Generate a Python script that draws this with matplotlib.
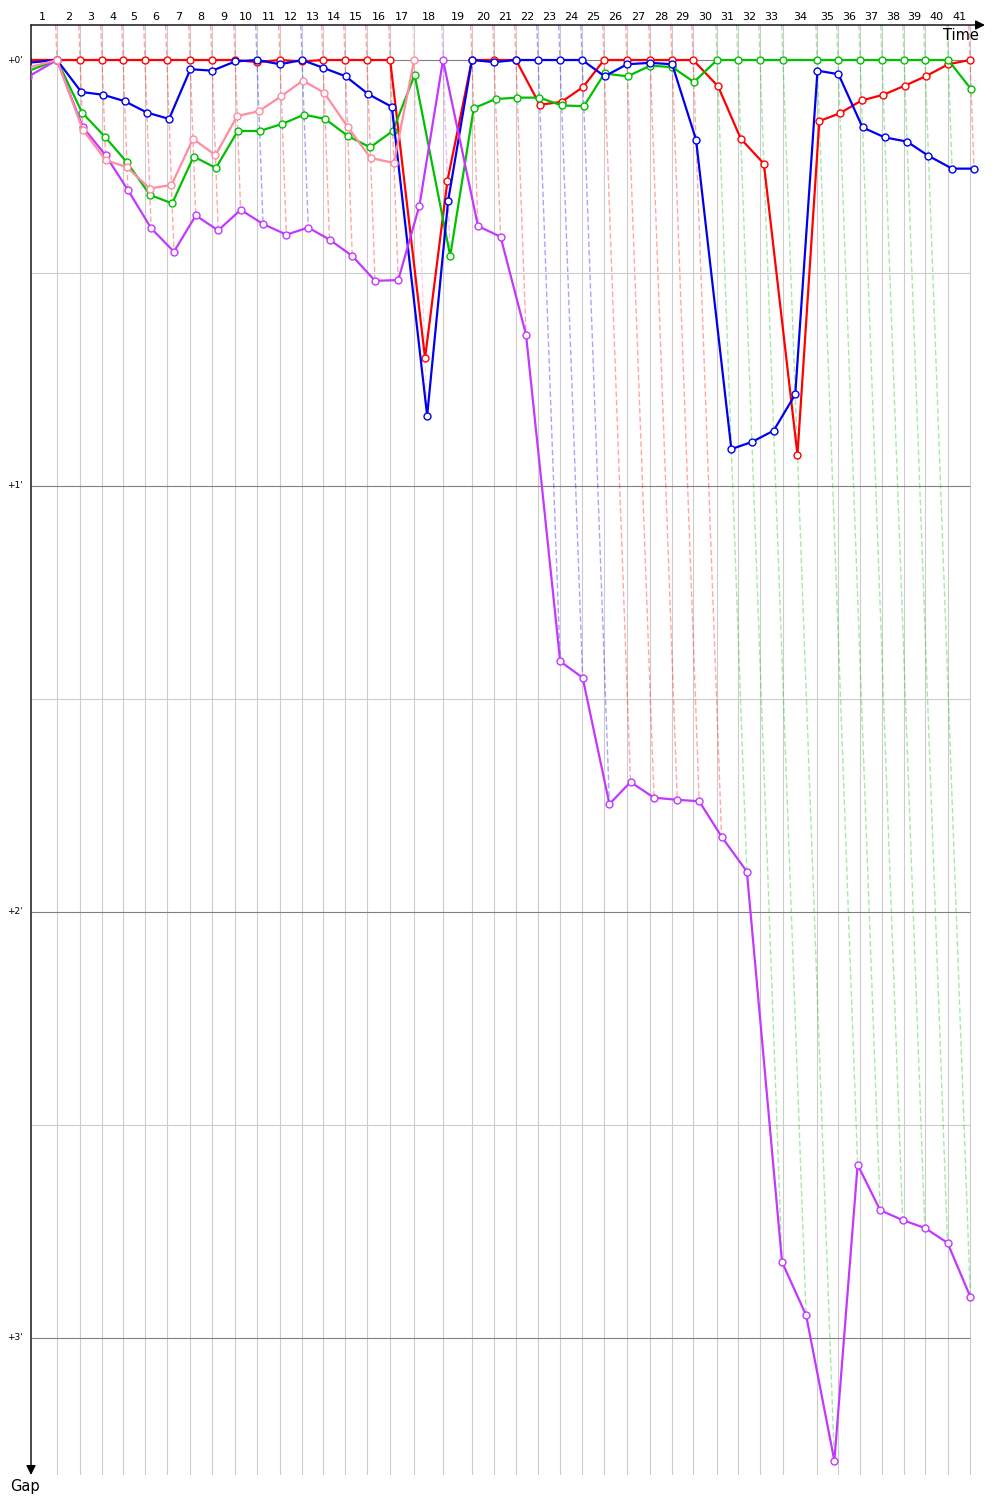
import matplotlib.pyplot as plt

# leader's elapsed time (s) at the end of each lap, lap 0 = start line
laps = list(range(42))
leader_time = [0, 115, 204, 288, 369, 453, 537, 626, 710, 799, 883, 971, 1056, 1136,
               1221, 1305, 1394, 1486, 1597, 1708, 1793, 1877, 1962, 2046, 2131, 2215,
               2303, 2392, 2476, 2557, 2649, 2729, 2814, 2902, 3033, 3113, 3198, 3282,
               3367, 3447, 3536, 3620]

# gap to the leader (s) at each lap
red_gap = [0, 0, 0, 0, 0, 0, 0, 0, 0, 0, 0.3, 0, 0.2, 0, 0, 0, 0, 42.0, 17.0, 0, 0, 0,
           6.3, 5.9, 3.8, 0, 0, 0, 0, 0, 3.7, 11.1, 14.6, 55.6, 8.6, 7.5, 5.7, 4.9, 3.6,
           2.3, 0.6, 0]
blue_gap = [0.4, 0, 4.5, 4.9, 5.8, 7.4, 8.3, 1.3, 1.5, 0.2, 0, 0.6, 0, 1.1, 2.3, 4.8,
            6.6, 50.1, 19.8, 0, 0.3, 0, 0, 0, 0, 2.3, 0.6, 0.4, 0.6, 11.2, 54.8, 53.8,
            52.2, 47.1, 1.5, 2.0, 9.5, 10.9, 11.5, 13.5, 15.3, 15.3]
green_gap = [1.6, 0, 7.4, 10.8, 14.4, 19.0, 20.2, 13.6, 15.2, 10.0, 10.0, 9.0, 7.7, 8.3,
             10.7, 12.3, 10.0, 2.1, 27.6, 6.8, 5.5, 5.3, 5.3, 6.4, 6.5, 1.9, 2.3, 0.8,
             1.0, 3.1, 0, 0, 0, 0, 0, 0, 0, 0, 0, 0, 0, 4.1]
pink_gap = [1.1, 0, 9.8, 14.1, 15.1, 18.1, 17.6, 11.1, 13.4, 7.9, 7.2, 5.1, 2.9, 4.6,
            9.4, 13.8, 14.5, 0]
purple_gap = [2.4, 0, 9.4, 13.4, 18.3, 23.7, 27.0, 21.9, 24.0, 21.1, 23.1, 24.6, 23.6,
              25.3, 27.6, 31.1, 31.0, 20.5, 0, 23.4, 24.9, 38.7, 84.7, 87.0, 104.8,
              101.7, 103.9, 104.2, 104.4, 109.4, 114.3, 169.3, 176.8, 197.3, 155.6,
              162.0, 163.4, 164.5, 166.6, 174.2]

cars = [
    ("red", "#ff0000", red_gap),
    ("blue", "#0000ee", blue_gap),
    ("green", "#00c000", green_gap),
    ("pink", "#ff8ca0", pink_gap),
    ("purple", "#c338ff", purple_gap),
]
draw_order = ["red", "green", "blue", "purple", "pink"]

gap_ticks = [0, 60, 120, 180]
gap_labels = ["+0'", "+1'", "+2'", "+3'"]
minor_ticks = [30, 90, 150]

x_min, x_max = 15.4, 3677.5
y_top, y_bottom = -4.93, 199.3

fig = plt.figure(figsize=(10, 15), dpi=100)
ax = fig.add_axes([0.031, 1 - 1475 / 1500, 0.954, 1450 / 1500])
ax.set_xlim(x_min, x_max)
ax.set_ylim(y_bottom, y_top)
ax.set_axis_off()

# grid
ax.vlines(leader_time[1:], y_top, y_bottom, color="#cccccc", lw=0.8, zorder=1)
ax.hlines(minor_ticks, x_min, leader_time[-1], color="#cccccc", lw=0.8, zorder=1)
ax.hlines(gap_ticks, x_min, leader_time[-1], color="#808080", lw=0.8, zorder=1)

# lap lines, coloured by the leader of that lap
for k in laps[1:]:
    here = [(g[k], c) for n, c, g in cars if k < len(g)]
    lead_col = min(here, key=lambda p: p[0])[1]
    deepest = max(p[0] for p in here)
    ax.plot([leader_time[k] + y_top, leader_time[k] + deepest], [y_top, deepest],
            color=lead_col, alpha=0.35, lw=1.0, ls=(0, (4, 2)), zorder=2)

# cars
by_name = {n: (c, g) for n, c, g in cars}
for i, name in enumerate(draw_order):
    col, gaps = by_name[name]
    xs = [leader_time[k] + g for k, g in enumerate(gaps)]
    ax.plot(xs, gaps, color=col, lw=1.6, marker="o", ms=5, mfc="white", mec=col,
            mew=1.0, zorder=3 + i)

# axes with arrows
arrow = dict(arrowstyle="-|>", lw=1, color="black", mutation_scale=14,
             shrinkA=0, shrinkB=0)
ax.annotate("", xy=(1.0, 1.0), xytext=(0, 1.0), xycoords="axes fraction",
            arrowprops=arrow, annotation_clip=False)
ax.annotate("", xy=(0, 0), xytext=(0, 1.0), xycoords="axes fraction",
            arrowprops=arrow, annotation_clip=False)

# lap numbers above the time axis
for k in laps[1:]:
    mid = (leader_time[k - 1] + leader_time[k]) / 2
    ax.text(mid, 1.0 + 8 / 1450, str(k), transform=ax.get_xaxis_transform(),
            ha="center", va="center", fontsize=8)

for v, lab in zip(gap_ticks, gap_labels):
    ax.text(-8 / 954, v, lab, transform=ax.get_yaxis_transform(), ha="right",
            va="center", fontsize=6.5)

ax.text(0.975, 1 - 10 / 1450, "Time", transform=ax.transAxes, ha="center",
        va="center", fontsize=10.5)
ax.text(-6 / 954, -11 / 1450, "Gap", transform=ax.transAxes, ha="center",
        va="center", fontsize=10.5)

fig.savefig("out.png", dpi=100)
